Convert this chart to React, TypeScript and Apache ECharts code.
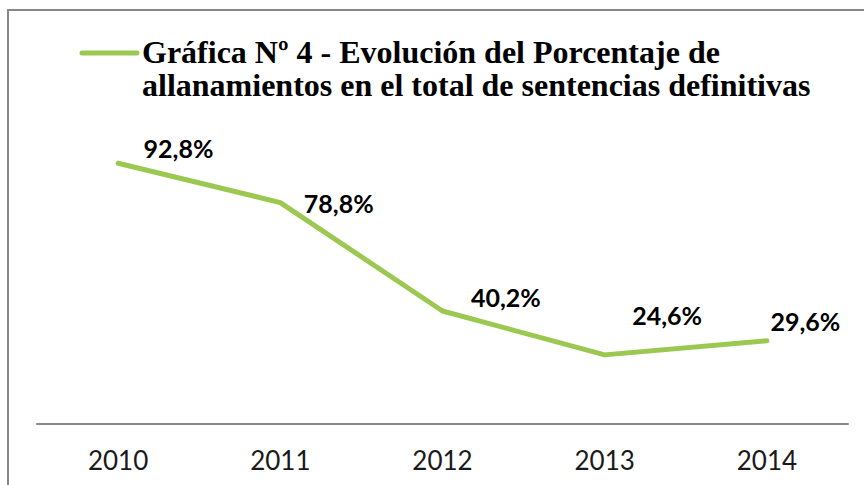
import React, { useEffect, useRef } from "react";
import * as echarts from "echarts";

const categories = ["2010", "2011", "2012", "2013", "2014"];
const values = [92.8, 78.8, 40.2, 24.6, 29.6];
const legendText =
  "Gráfica Nº 4 - Evolución del Porcentaje de\nallanamientos en el total de sentencias definitivas";
// label nudges (styling only)
const labelOffsets: [number, number][] = [
  [25, -15],
  [23, 0],
  [28, -14],
  [27, -40],
  [3, -20],
];

const GREEN = "#9BC850";
const GREY = "#888888";

export default function App() {
  const ref = useRef<HTMLDivElement>(null);
  useEffect(() => {
    if (!ref.current) return;
    const chart = echarts.init(ref.current, undefined, { renderer: "svg" });
    chart.setOption({
      animation: false,
      backgroundColor: "#ffffff",
      grid: { left: 37, right: 16, top: 143, bottom: 61 },
      xAxis: {
        type: "category",
        data: categories,
        boundaryGap: true,
        axisLine: { lineStyle: { color: GREY, width: 2 } },
        axisTick: { show: false },
        axisLabel: {
          margin: 23,
          fontFamily: "Lato",
          fontSize: 26,
          lineHeight: 26,
          color: "#1a1a1a",
        },
      },
      yAxis: {
        type: "value",
        min: 0,
        max: 100,
        show: false,
        splitLine: { show: false },
      },
      series: [
        {
          type: "line",
          name: "Porcentaje de allanamientos",
          data: values.map((v, i) => ({
            value: v,
            label: { offset: labelOffsets[i] },
          })),
          symbol: "circle",
          symbolSize: 1,
          showSymbol: true,
          lineStyle: { color: GREEN, width: 5, cap: "round", join: "round" },
          itemStyle: { color: GREEN, opacity: 0 },
          label: {
            show: true,
            position: "right",
            distance: 0,
            fontFamily: "Lato",
            fontWeight: "bold",
            fontSize: 25,
            color: "#000000",
            opacity: 1,
            formatter: (p: any) => p.value.toFixed(1).replace(".", ",") + "%",
          },
        },
      ],
      graphic: [
        {
          type: "rect",
          shape: { x: 8, y: 10, width: 900, height: 520 },
          style: { fill: "none", stroke: GREY, lineWidth: 2 },
          silent: true,
        },
        {
          type: "line",
          shape: { x1: 82, y1: 53, x2: 137, y2: 53 },
          style: { stroke: GREEN, lineWidth: 5, lineCap: "round" },
        },
        {
          type: "text",
          x: 142,
          y: 68.5,
          style: {
            text: legendText,
            fontFamily: "Liberation Serif",
            fontWeight: "bold",
            fontSize: 32,
            lineHeight: 33,
            fill: "#000000",
            textAlign: "left",
            textVerticalAlign: "middle",
          },
        },
      ],
    });
    return () => chart.dispose();
  }, []);
  return (
    <div
      ref={ref}
      style={{ position: "fixed", left: 0, top: 0, width: 864, height: 485 }}
    />
  );
}
